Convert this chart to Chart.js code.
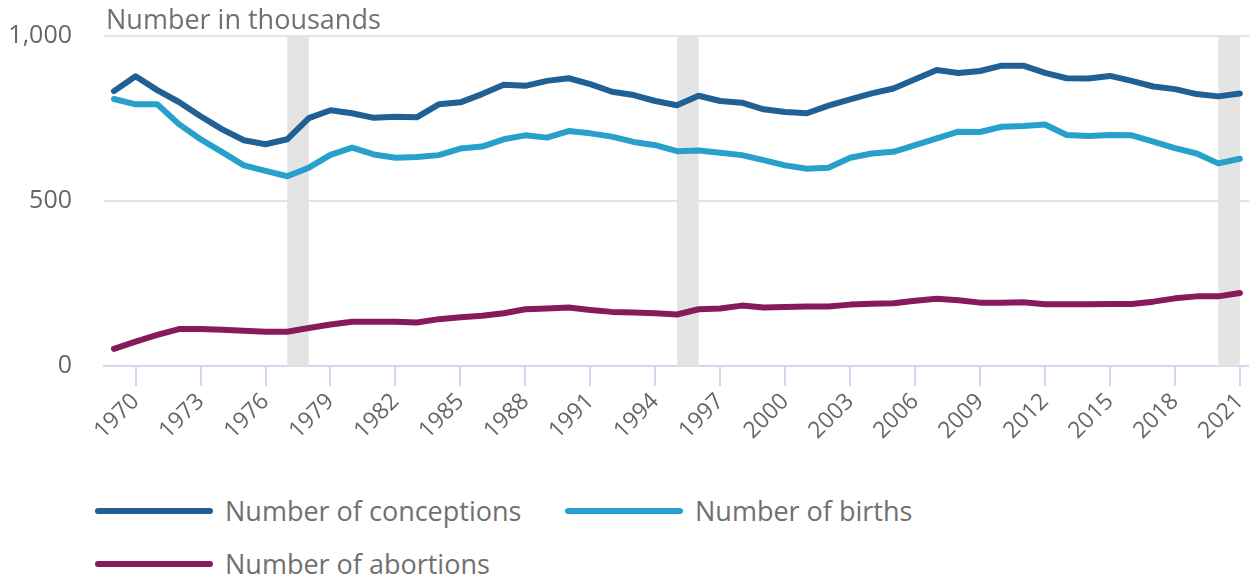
<!DOCTYPE html>
<html>
<head>
<meta charset="utf-8">
<script src="https://cdn.jsdelivr.net/npm/chart.js@4.4.1/dist/chart.umd.min.js"></script>
<style>
  html, body { margin: 0; padding: 0; background: #fff; }
  body { width: 1249px; height: 577px; position: relative; overflow: hidden; font-family: "Open Sans", sans-serif; }
  #wrap { position: absolute; left: 0; top: 0; width: 1249px; height: 450px; }
  #title { position: absolute; left: 106px; top: 0px; font-size: 27px; color: #707070; white-space: nowrap; }
  #legend { position: absolute; left: 95px; top: 484px; }
  .row { display: flex; height: 53px; align-items: center; }
  .item { display: flex; align-items: center; width: 470px; font-size: 27px; color: #707070; white-space: nowrap; }
  .swatch { width: 118px; height: 6px; border-radius: 3px; margin-right: 12px; }
</style>
</head>
<body>
<div id="wrap"><canvas id="chart" width="1249" height="450"></canvas></div>
<div id="title">Number in thousands</div>
<div id="legend"></div>
<script>
// Années (axe des x)
const years = [1969, 1970, 1971, 1972, 1973, 1974, 1975, 1976, 1977, 1978,
  1979, 1980, 1981, 1982, 1983, 1984, 1985, 1986, 1987, 1988,
  1989, 1990, 1991, 1992, 1993, 1994, 1995, 1996, 1997, 1998,
  1999, 2000, 2001, 2002, 2003, 2004, 2005, 2006, 2007, 2008,
  2009, 2010, 2011, 2012, 2013, 2014, 2015, 2016, 2017, 2018,
  2019, 2020, 2021];
const tickYears = [1970, 1973, 1976, 1979, 1982, 1985, 1988, 1991, 1994, 1997,
  2000, 2003, 2006, 2009, 2012, 2015, 2018, 2021];
const yTicks = [0, 500, 1000];

// Séries (en milliers)
const conceptions = [833, 878, 836, 800, 757, 717, 684, 672, 687, 751,
  775, 766, 752, 755, 754, 793, 799, 824, 852, 849,
  864, 872, 854, 831, 821, 803, 790, 819, 803, 798,
  778, 770, 766, 789, 808, 826, 841, 869, 897, 888,
  894, 910, 910, 888, 872, 871, 879, 864, 847, 839,
  824, 817, 826];
const births = [809, 793, 793, 733, 687, 648, 608, 591, 575, 601,
  640, 662, 641, 631, 633, 639, 659, 665, 687, 699,
  692, 712, 705, 695, 679, 669, 651, 653, 646, 639,
  624, 608, 598, 601, 631, 644, 649, 669, 690, 710,
  709, 725, 727, 732, 700, 697, 700, 699, 680, 660,
  644, 614, 628];
const abortions = [52, 74, 94, 112, 112, 110, 107, 104, 104, 115,
  126, 134, 134, 134, 132, 142, 148, 152, 160, 172,
  174, 177, 170, 164, 162, 160, 156, 172, 174, 183,
  177, 179, 180, 180, 186, 189, 190, 198, 204, 199,
  192, 192, 193, 187, 187, 187, 188, 188, 195, 205,
  211, 211, 221];

// Bandes grises
const bandStarts = [1977, 1995, 2020];
const bandEnds = [1978, 1996, 2021];

const seriesNames = ['Number of conceptions', 'Number of births', 'Number of abortions'];
const seriesColors = ['#206095', '#27a0cc', '#871a5b'];
const seriesValues = [conceptions, births, abortions];

Chart.defaults.font.family = '"Open Sans", sans-serif';

const bandPlugin = {
  id: 'bands',
  beforeDatasetsDraw(chart) {
    const { ctx, chartArea, scales: { x } } = chart;
    ctx.save();
    ctx.fillStyle = '#e4e4e4';
    bandStarts.forEach((s, i) => {
      const x0 = x.getPixelForValue(s);
      const x1 = x.getPixelForValue(bandEnds[i]);
      ctx.fillRect(x0, chartArea.top + 1, x1 - x0, chartArea.bottom - chartArea.top - 1);
    });
    ctx.restore();
  }
};

const datasets = seriesValues.map((vals, i) => ({
  label: seriesNames[i],
  data: years.map((yr, j) => ({ x: yr, y: vals[j] })),
  borderColor: seriesColors[i],
  backgroundColor: seriesColors[i],
  borderWidth: 6,
  pointRadius: 0,
  borderCapStyle: 'round',
  borderJoinStyle: 'round',
  tension: 0
}));

new Chart(document.getElementById('chart'), {
  type: 'line',
  data: { datasets },
  plugins: [bandPlugin],
  options: {
    responsive: false,
    animation: false,
    layout: { padding: { top: 36, right: 0, left: 0, bottom: 0 } },
    plugins: { legend: { display: false }, tooltip: { enabled: false } },
    scales: {
      x: {
        type: 'linear',
        min: 1968.54,
        max: 2021.42,
        afterBuildTicks: s => { s.ticks = tickYears.map(v => ({ value: v })); },
        afterFit: s => { s.height = 84; s.paddingRight = 0; },
        border: { color: '#cfd9ec', width: 2 },
        grid: { drawOnChartArea: false, drawTicks: true, tickLength: 20, color: '#cfd9ec', lineWidth: 2 },
        ticks: {
          maxRotation: 45, minRotation: 45, padding: 2,
          font: { size: 23 }, color: '#666',
          callback: v => String(v)
        }
      },
      y: {
        min: 0,
        max: 1000,
        afterBuildTicks: s => { s.ticks = yTicks.map(v => ({ value: v })); },
        afterFit: s => { s.width = 104; s.paddingTop = 0; s.paddingBottom = 0; },
        border: { display: false },
        grid: {
          drawTicks: false, lineWidth: 2,
          color: c => c.tick && c.tick.value === 0 ? 'rgba(0,0,0,0)' : '#e3e3e3'
        },
        ticks: {
          padding: 32, font: { size: 25 }, color: '#666',
          callback: v => v.toLocaleString('en-GB')
        }
      }
    }
  }
});

// Légende HTML
const legend = document.getElementById('legend');
const rows = [[0, 1], [2]];
rows.forEach(r => {
  const row = document.createElement('div');
  row.className = 'row';
  r.forEach(i => {
    row.insertAdjacentHTML('beforeend',
      `<div class="item"><span class="swatch" style="background:${seriesColors[i]}"></span>${seriesNames[i]}</div>`);
  });
  legend.appendChild(row);
});
</script>
</body>
</html>
